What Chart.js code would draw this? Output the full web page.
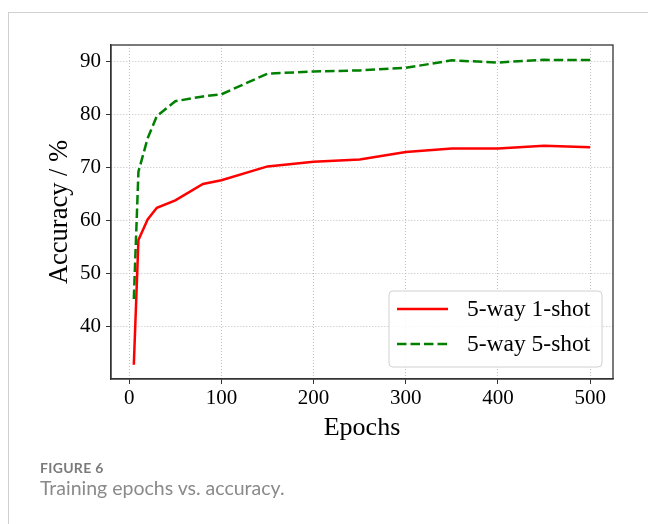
<!DOCTYPE html>
<html>
<head>
<meta charset="utf-8">
<script src="https://cdn.jsdelivr.net/npm/chart.js@4.4.0/dist/chart.umd.min.js"></script>
<style>
  body { margin: 0; background: #fff; width: 648px; height: 524px; overflow: hidden; position: relative; }
  #frame { position: absolute; left: 8px; top: 12px; right: 0; bottom: 0; border-top: 1px solid #d0d0d0; border-left: 1px solid #d0d0d0; }
  #chart { position: absolute; left: 0; top: 0; }
  .cap { position: absolute; left: 40px; font-family: Lato, "Open Sans", sans-serif; line-height: 1; white-space: nowrap; }
  #fig { top: 461px; font-size: 14px; font-weight: bold; color: #7a7a7a; letter-spacing: 0.3px; }
  #title { top: 478px; font-size: 19.5px; color: #8a8a8a; }
</style>
</head>
<body>
<div id="frame"></div>
<canvas id="chart" width="648" height="460"></canvas>
<div class="cap" id="fig">FIGURE 6</div>
<div class="cap" id="title">Training epochs vs. accuracy.</div>
<script>
// données
var epochs = [5, 10, 20, 30, 50, 80, 100, 150, 200, 250, 300, 350, 400, 450, 500];
var oneShot = [32.8, 56.3, 60.2, 62.4, 63.8, 66.9, 67.6, 70.2, 71.1, 71.5, 72.9, 73.6, 73.6, 74.1, 73.8];
var fiveShot = [45.2, 69.2, 75.5, 79.7, 82.5, 83.4, 83.8, 87.7, 88.1, 88.3, 88.8, 90.2, 89.8, 90.3, 90.25];
var xTicks = [0, 100, 200, 300, 400, 500];
var yTicks = [40, 50, 60, 70, 80, 90];
var seriesNames = ["5-way 1-shot", "5-way 5-shot"];

var serif = "'Liberation Serif', 'Times New Roman', serif";

function pts(ys) {
    return epochs.map(function(x, i) { return {x: x, y: ys[i]}; });
}

/* cadre complet autour de la zone du graphe */
var framePlugin = {
    id: 'frame',
    afterDraw: function(chart) {
        var a = chart.chartArea, ctx = chart.ctx;
        ctx.save();
        ctx.strokeStyle = '#333';
        ctx.lineWidth = 1.3;
        ctx.strokeRect(a.left, a.top, a.right - a.left, a.bottom - a.top);
        ctx.restore();
    }
};

/* légende en bas à droite, façon matplotlib */
var legendPlugin = {
    id: 'boxLegend',
    afterDraw: function(chart) {
        var ctx = chart.ctx;
        var x0 = 389, y0 = 291, w = 213, h = 76, r = 4;
        ctx.save();
        ctx.beginPath();
        ctx.roundRect(x0, y0, w, h, r);
        ctx.fillStyle = 'rgba(255,255,255,0.85)';
        ctx.fill();
        ctx.strokeStyle = '#d0d0d0';
        ctx.lineWidth = 1;
        ctx.stroke();
        ctx.font = "23.5px " + serif;
        ctx.textBaseline = 'middle';
        ctx.fillStyle = '#000';
        chart.data.datasets.forEach(function(ds, i) {
            var yy = 309 + i * 35;
            ctx.beginPath();
            ctx.strokeStyle = ds.borderColor;
            ctx.lineWidth = ds.borderWidth;
            ctx.setLineDash(ds.borderDash || []);
            ctx.moveTo(397, yy);
            ctx.lineTo(448, yy);
            ctx.stroke();
            ctx.setLineDash([]);
            ctx.fillText(ds.label, 467, yy + 1);
        });
        ctx.restore();
    }
};

var ctxL = document.getElementById('chart');
var myChart = new Chart(ctxL, {
    type: 'line',
    data: {
        datasets: [{
            label: seriesNames[0],
            data: pts(oneShot),
            borderColor: '#ff0000',
            borderWidth: 2.5,
            pointRadius: 0,
            tension: 0
        }, {
            label: seriesNames[1],
            data: pts(fiveShot),
            borderColor: '#008000',
            borderWidth: 2.5,
            borderDash: [9.5, 4],
            pointRadius: 0,
            tension: 0
        }]
    },
    options: {
        responsive: false,
        animation: false,
        devicePixelRatio: 1,
        layout: { padding: { top: 45, right: 35, left: 0, bottom: 0 } },
        plugins: {
            legend: { display: false },
            tooltip: { enabled: false }
        },
        scales: {
            x: {
                type: 'linear',
                min: -19.75,
                max: 524.75,
                afterFit: function(s) { s.height = 81; },
                afterBuildTicks: function(s) { s.ticks = xTicks.map(function(v) { return {value: v}; }); },
                ticks: { color: '#000', padding: 2, font: { family: serif, size: 21 } },
                grid: { color: '#b0b0b0', lineWidth: 0.8, tickColor: '#333', tickLength: 5, tickWidth: 1 },
                border: { color: '#333', width: 1.3, dash: [1, 2] },
                title: { display: true, text: 'Epochs', color: '#000', font: { family: serif, size: 26 }, padding: { top: 0, bottom: 16 } }
            },
            y: {
                min: 30.1,
                max: 93.1,
                afterFit: function(s) { s.width = 111; },
                afterBuildTicks: function(s) { s.ticks = yTicks.map(function(v) { return {value: v}; }); },
                ticks: { color: '#000', padding: 5, font: { family: serif, size: 21 } },
                grid: { color: '#b0b0b0', lineWidth: 0.8, tickColor: '#333', tickLength: 5, tickWidth: 1 },
                border: { color: '#333', width: 1.3, dash: [1, 2] },
                title: { display: true, text: 'Accuracy / %', color: '#000', font: { family: serif, size: 26.5 }, padding: { top: 44, bottom: 0 } }
            }
        }
    },
    plugins: [framePlugin, legendPlugin]
});
</script>
</body>
</html>
